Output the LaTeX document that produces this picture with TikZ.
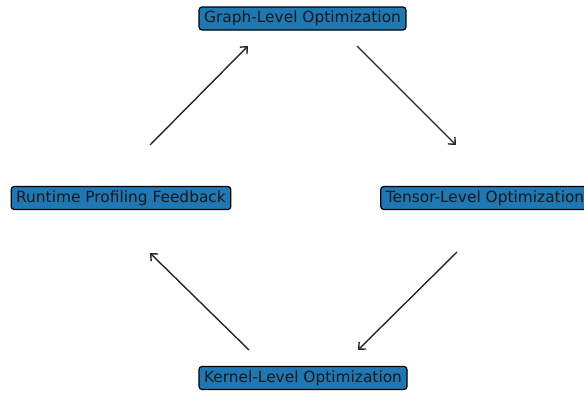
\documentclass[tikz,border=0pt]{standalone}
\usepackage{fontspec}
\setmainfont{DejaVu Sans}
\usetikzlibrary{arrows.meta}
\definecolor{stageblue}{HTML}{1F77B4}

\begin{document}
\begin{tikzpicture}[x=1pt,y=-1pt,
	stage/.style={draw=black,fill=stageblue,rounded corners=3pt,line width=1.2pt,text=black!90,font=\fontsize{15.4}{18}\selectfont,inner xsep=5pt,inner ysep=4.5pt,text height=11pt,text depth=3pt},
	flow/.style={-{Straight Barb[length=5.5pt,width=10pt]},line width=1.4pt,color=black!85}]
	\useasboundingbox (0,0) rectangle (584,394);
	\node[stage] (graph) at (302.5,18.5) {Graph-Level Optimization};
	\node[stage] (tensor) at (485,198) {Tensor-Level Optimization};
	\node[stage] (kernel) at (303,378) {Kernel-Level Optimization};
	\node[stage] (runtime) at (121,198) {Runtime Profiling Feedback};
	% arrow ends
	\coordinate (rg-a) at (150,145);
	\coordinate (rg-b) at (248,46);
	\coordinate (gt-a) at (357,46);
	\coordinate (gt-b) at (456,145);
	\coordinate (tk-a) at (457,252);
	\coordinate (tk-b) at (358,350);
	\coordinate (kr-a) at (249,350);
	\coordinate (kr-b) at (150,253);
	\draw[flow] (rg-a) -- (rg-b);
	\draw[flow] (gt-a) -- (gt-b);
	\draw[flow] (tk-a) -- (tk-b);
	\draw[flow] (kr-a) -- (kr-b);
\end{tikzpicture}
\end{document}
